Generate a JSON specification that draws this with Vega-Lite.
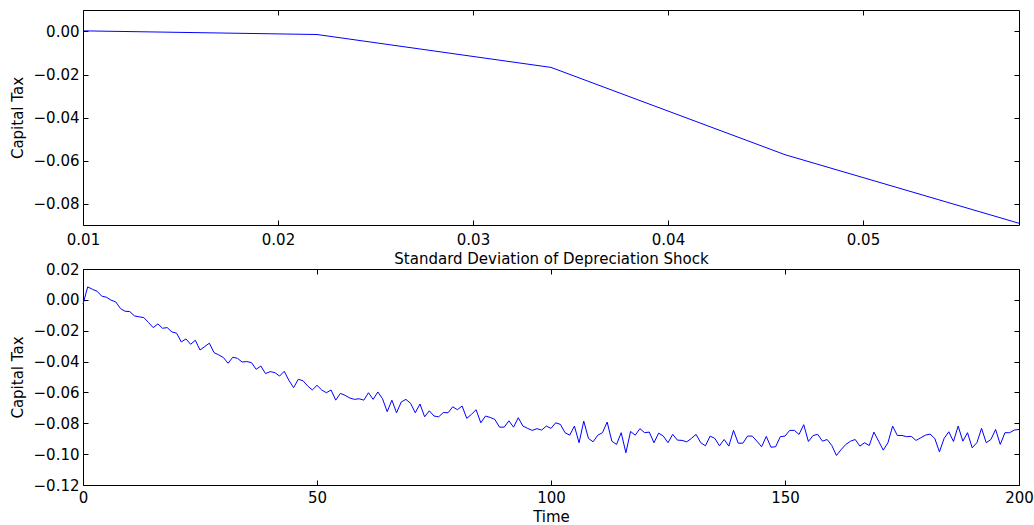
{
  "$schema": "https://vega.github.io/schema/vega-lite/v6.json",
  "padding": {"left": 9, "top": 9, "right": 16, "bottom": 0},
  "spacing": -6,
  "datasets": {
    "sd": [
      {"sd": 0.010, "tax": 0.0003},
      {"sd": 0.022, "tax": -0.0014},
      {"sd": 0.034, "tax": -0.0167},
      {"sd": 0.046, "tax": -0.0573},
      {"sd": 0.058, "tax": -0.0892}
    ],
    "sim": [
      {"t":0,"tax":-0.0028},{"t":1,"tax":0.0084},{"t":2,"tax":0.0069},{"t":3,"tax":0.0056},{"t":4,"tax":0.0024},
      {"t":5,"tax":0.0017},{"t":6,"tax":-0.0002},{"t":7,"tax":-0.0013},{"t":8,"tax":-0.0056},{"t":9,"tax":-0.0074},
      {"t":10,"tax":-0.0076},{"t":11,"tax":-0.0104},{"t":12,"tax":-0.0110},{"t":13,"tax":-0.0115},{"t":14,"tax":-0.0147},
      {"t":15,"tax":-0.0180},{"t":16,"tax":-0.0156},{"t":17,"tax":-0.0184},{"t":18,"tax":-0.0180},{"t":19,"tax":-0.0208},
      {"t":20,"tax":-0.0216},{"t":21,"tax":-0.0273},{"t":22,"tax":-0.0253},{"t":23,"tax":-0.0288},{"t":24,"tax":-0.0262},
      {"t":25,"tax":-0.0325},{"t":26,"tax":-0.0303},{"t":27,"tax":-0.0281},{"t":28,"tax":-0.0342},{"t":29,"tax":-0.0357},
      {"t":30,"tax":-0.0374},{"t":31,"tax":-0.0411},{"t":32,"tax":-0.0372},{"t":33,"tax":-0.0379},{"t":34,"tax":-0.0403},
      {"t":35,"tax":-0.0400},{"t":36,"tax":-0.0407},{"t":37,"tax":-0.0450},{"t":38,"tax":-0.0429},{"t":39,"tax":-0.0478},
      {"t":40,"tax":-0.0465},{"t":41,"tax":-0.0472},{"t":42,"tax":-0.0494},{"t":43,"tax":-0.0463},{"t":44,"tax":-0.0522},
      {"t":45,"tax":-0.0569},{"t":46,"tax":-0.0515},{"t":47,"tax":-0.0524},{"t":48,"tax":-0.0558},{"t":49,"tax":-0.0584},
      {"t":50,"tax":-0.0554},{"t":51,"tax":-0.0584},{"t":52,"tax":-0.0602},{"t":53,"tax":-0.0584},{"t":54,"tax":-0.0650},
      {"t":55,"tax":-0.0606},{"t":56,"tax":-0.0619},{"t":57,"tax":-0.0636},{"t":58,"tax":-0.0645},{"t":59,"tax":-0.0641},
      {"t":60,"tax":-0.0650},{"t":61,"tax":-0.0602},{"t":62,"tax":-0.0645},{"t":63,"tax":-0.0597},{"t":64,"tax":-0.0641},
      {"t":65,"tax":-0.0725},{"t":66,"tax":-0.0650},{"t":67,"tax":-0.0732},{"t":68,"tax":-0.0662},{"t":69,"tax":-0.0645},
      {"t":70,"tax":-0.0671},{"t":71,"tax":-0.0732},{"t":72,"tax":-0.0675},{"t":73,"tax":-0.0758},{"t":74,"tax":-0.0719},
      {"t":75,"tax":-0.0753},{"t":76,"tax":-0.0758},{"t":77,"tax":-0.0730},{"t":78,"tax":-0.0732},{"t":79,"tax":-0.0693},
      {"t":80,"tax":-0.0712},{"t":81,"tax":-0.0688},{"t":82,"tax":-0.0768},{"t":83,"tax":-0.0742},{"t":84,"tax":-0.0712},
      {"t":85,"tax":-0.0797},{"t":86,"tax":-0.0753},{"t":87,"tax":-0.0762},{"t":88,"tax":-0.0775},{"t":89,"tax":-0.0825},
      {"t":90,"tax":-0.0825},{"t":91,"tax":-0.0784},{"t":92,"tax":-0.0825},{"t":93,"tax":-0.0764},{"t":94,"tax":-0.0818},
      {"t":95,"tax":-0.0833},{"t":96,"tax":-0.0846},{"t":97,"tax":-0.0835},{"t":98,"tax":-0.0844},{"t":99,"tax":-0.0818},
      {"t":100,"tax":-0.0833},{"t":101,"tax":-0.0797},{"t":102,"tax":-0.0807},{"t":103,"tax":-0.0861},{"t":104,"tax":-0.0877},
      {"t":105,"tax":-0.0818},{"t":106,"tax":-0.0926},{"t":107,"tax":-0.0786},{"t":108,"tax":-0.0898},{"t":109,"tax":-0.0920},
      {"t":110,"tax":-0.0877},{"t":111,"tax":-0.0861},{"t":112,"tax":-0.0792},{"t":113,"tax":-0.0916},{"t":114,"tax":-0.0937},
      {"t":115,"tax":-0.0861},{"t":116,"tax":-0.0991},{"t":117,"tax":-0.0853},{"t":118,"tax":-0.0877},{"t":119,"tax":-0.0835},
      {"t":120,"tax":-0.0861},{"t":121,"tax":-0.0857},{"t":122,"tax":-0.0926},{"t":123,"tax":-0.0864},{"t":124,"tax":-0.0883},
      {"t":125,"tax":-0.0926},{"t":126,"tax":-0.0872},{"t":127,"tax":-0.0909},{"t":128,"tax":-0.0911},{"t":129,"tax":-0.0920},
      {"t":130,"tax":-0.0898},{"t":131,"tax":-0.0872},{"t":132,"tax":-0.0926},{"t":133,"tax":-0.0946},{"t":134,"tax":-0.0883},
      {"t":135,"tax":-0.0898},{"t":136,"tax":-0.0946},{"t":137,"tax":-0.0905},{"t":138,"tax":-0.0948},{"t":139,"tax":-0.0846},
      {"t":140,"tax":-0.0929},{"t":141,"tax":-0.0929},{"t":142,"tax":-0.0883},{"t":143,"tax":-0.0883},{"t":144,"tax":-0.0916},
      {"t":145,"tax":-0.0952},{"t":146,"tax":-0.0885},{"t":147,"tax":-0.0955},{"t":148,"tax":-0.0952},{"t":149,"tax":-0.0887},
      {"t":150,"tax":-0.0883},{"t":151,"tax":-0.0846},{"t":152,"tax":-0.0846},{"t":153,"tax":-0.0872},{"t":154,"tax":-0.0809},
      {"t":155,"tax":-0.0918},{"t":156,"tax":-0.0879},{"t":157,"tax":-0.0872},{"t":158,"tax":-0.0916},{"t":159,"tax":-0.0905},
      {"t":160,"tax":-0.0944},{"t":161,"tax":-0.1009},{"t":162,"tax":-0.0970},{"t":163,"tax":-0.0937},{"t":164,"tax":-0.0916},
      {"t":165,"tax":-0.0905},{"t":166,"tax":-0.0948},{"t":167,"tax":-0.0926},{"t":168,"tax":-0.0944},{"t":169,"tax":-0.0857},
      {"t":170,"tax":-0.0916},{"t":171,"tax":-0.0974},{"t":172,"tax":-0.0926},{"t":173,"tax":-0.0818},{"t":174,"tax":-0.0879},
      {"t":175,"tax":-0.0879},{"t":176,"tax":-0.0887},{"t":177,"tax":-0.0885},{"t":178,"tax":-0.0911},{"t":179,"tax":-0.0894},
      {"t":180,"tax":-0.0877},{"t":181,"tax":-0.0870},{"t":182,"tax":-0.0898},{"t":183,"tax":-0.0985},{"t":184,"tax":-0.0898},
      {"t":185,"tax":-0.0855},{"t":186,"tax":-0.0918},{"t":187,"tax":-0.0818},{"t":188,"tax":-0.0916},{"t":189,"tax":-0.0861},
      {"t":190,"tax":-0.0959},{"t":191,"tax":-0.0926},{"t":192,"tax":-0.0833},{"t":193,"tax":-0.0926},{"t":194,"tax":-0.0905},
      {"t":195,"tax":-0.0840},{"t":196,"tax":-0.0937},{"t":197,"tax":-0.0861},{"t":198,"tax":-0.0861},{"t":199,"tax":-0.0844},
      {"t":200,"tax":-0.0840}
    ]
  },
  "vconcat": [
    {
      "width": 936,
      "height": 215,
      "data": {"name": "sd"},
      "layer": [
        {
          "mark": {"type": "line", "color": "#0000ff", "strokeWidth": 1},
          "encoding": {
            "x": {"field": "sd", "type": "quantitative", "title": "Standard Deviation of Depreciation Shock",
                  "scale": {"domain": [0.01, 0.058], "nice": false, "zero": false},
                  "axis": {"orient": "bottom", "values": [0.01, 0.02, 0.03, 0.04, 0.05], "format": ".2f", "labelPadding": 12, "titlePadding": 4}},
            "y": {"field": "tax", "type": "quantitative", "title": "Capital Tax",
                  "scale": {"domain": [-0.09, 0.01], "nice": false, "zero": false},
                  "axis": {"orient": "left", "values": [-0.08, -0.06, -0.04, -0.02, 0],
                           "labelExpr": "replace(format(datum.value, '.2f'), '-', '\u2212')"}}
          }
        },
        {
          "mark": {"type": "line", "opacity": 0},
          "encoding": {
            "x": {"field": "sd", "type": "quantitative",
                  "axis": {"orient": "top", "values": [0.01, 0.02, 0.03, 0.04, 0.05], "labels": false, "title": null}},
            "y": {"field": "tax", "type": "quantitative",
                  "axis": {"orient": "right", "values": [-0.08, -0.06, -0.04, -0.02, 0], "labels": false, "title": null}}
          }
        }
      ],
      "resolve": {"axis": {"x": "independent", "y": "independent"}}
    },
    {
      "width": 936,
      "height": 216,
      "data": {"name": "sim"},
      "layer": [
        {
          "mark": {"type": "line", "color": "#0000ff", "strokeWidth": 1},
          "encoding": {
            "x": {"field": "t", "type": "quantitative", "title": "Time",
                  "scale": {"domain": [0, 200], "nice": false, "zero": false},
                  "axis": {"orient": "bottom", "values": [0, 50, 100, 150, 200], "format": "d", "labelPadding": 10, "titlePadding": 4}},
            "y": {"field": "tax", "type": "quantitative", "title": "Capital Tax",
                  "scale": {"domain": [-0.12, 0.02], "nice": false, "zero": false},
                  "axis": {"orient": "left", "values": [-0.12, -0.1, -0.08, -0.06, -0.04, -0.02, 0, 0.02],
                           "labelExpr": "replace(format(datum.value, '.2f'), '-', '\u2212')"}}
          }
        },
        {
          "mark": {"type": "line", "opacity": 0},
          "encoding": {
            "x": {"field": "t", "type": "quantitative",
                  "axis": {"orient": "top", "values": [0, 50, 100, 150, 200], "labels": false, "title": null}},
            "y": {"field": "tax", "type": "quantitative",
                  "axis": {"orient": "right", "values": [-0.12, -0.1, -0.08, -0.06, -0.04, -0.02, 0, 0.02], "labels": false, "title": null}}
          }
        }
      ],
      "resolve": {"axis": {"x": "independent", "y": "independent"}}
    }
  ],
  "config": {
    "font": "DejaVu Sans",
    "view": {"stroke": "black", "strokeWidth": 1},
    "axis": {
      "grid": false,
      "domain": false,
      "tickColor": "black",
      "tickSize": -5,
      "tickWidth": 1,
      "labelPadding": 9,
      "labelFont": "DejaVu Sans",
      "labelFontSize": 15,
      "labelColor": "black",
      "labelFlush": false,
      "labelOverlap": false,
      "titleFont": "DejaVu Sans",
      "titleFontSize": 15,
      "titleFontWeight": "normal",
      "titleColor": "black",
      "titlePadding": 8
    }
  }
}
